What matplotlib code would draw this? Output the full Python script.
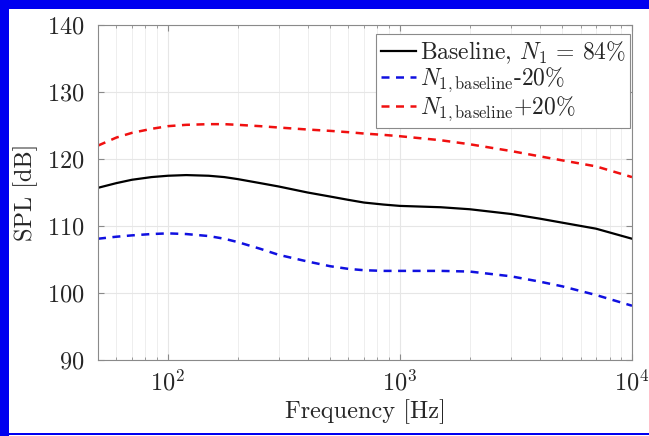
import matplotlib
matplotlib.use('Agg')

import matplotlib.pyplot as plt
from matplotlib.patches import Rectangle
from matplotlib.ticker import LogLocator, MultipleLocator, NullFormatter

plt.rcParams['font.family'] = 'serif'
plt.rcParams['font.serif'] = ['cmr10']
plt.rcParams['mathtext.fontset'] = 'cm'
plt.rcParams['axes.formatter.use_mathtext'] = True

# SPL spectra for the three N1 settings
freq = [50, 60, 70, 85, 100, 120, 150, 175, 200, 250, 300, 400, 500, 600, 700,
        850, 1000, 1500, 2000, 3000, 4000, 5000, 7000, 10000]
spl_baseline = [115.7, 116.4, 116.9, 117.3, 117.5, 117.6, 117.5, 117.3, 117.0,
                116.4, 115.9, 115.0, 114.4, 113.9, 113.5, 113.2, 113.0, 112.8,
                112.5, 111.8, 111.1, 110.5, 109.6, 108.1]
spl_minus20 = [108.1, 108.4, 108.6, 108.8, 108.9, 108.8, 108.5, 108.1, 107.6,
               106.6, 105.7, 104.7, 104.0, 103.6, 103.4, 103.3, 103.3, 103.3,
               103.2, 102.5, 101.7, 101.0, 99.7, 98.1]
spl_plus20 = [122.0, 123.2, 123.9, 124.5, 124.9, 125.1, 125.2, 125.2, 125.1,
              124.9, 124.7, 124.4, 124.2, 124.0, 123.8, 123.6, 123.4, 122.8,
              122.2, 121.2, 120.4, 119.8, 118.9, 117.3]

labels = [r'Baseline, $N_1$ = 84%',
          r'$N_{1,\mathrm{baseline}}$-20%',
          r'$N_{1,\mathrm{baseline}}$+20%']

W, H = 649, 436
fig = plt.figure(figsize=(W / 100, H / 100), dpi=100)
ax = fig.add_axes([98 / W, 1 - 360 / H, (632 - 98) / W, (360 - 25) / H])

ax.plot(freq, spl_baseline, color='black', lw=1.6, label=labels[0])
ax.plot(freq, spl_minus20, color='#1010e0', lw=1.8, dashes=(3.2, 2.6),
        label=labels[1])
ax.plot(freq, spl_plus20, color='#f01010', lw=1.8, dashes=(3.2, 2.6),
        label=labels[2])

ax.set_xscale('log')
ax.set_xlim(50, 1e4)
ax.set_ylim(90, 140)
ax.yaxis.set_major_locator(MultipleLocator(10))
ax.xaxis.set_major_locator(LogLocator(base=10))
ax.xaxis.set_minor_locator(LogLocator(base=10, subs=range(2, 10)))
ax.xaxis.set_minor_formatter(NullFormatter())

ax.grid(True, which='major', color='#e6e6e6', lw=0.8)
ax.grid(True, which='minor', axis='x', color='#eeeeee', lw=0.7)
ax.set_axisbelow(True)

for s in ax.spines.values():
    s.set_color('#8a8a8a')
    s.set_linewidth(0.8)
ax.tick_params(which='both', direction='in', top=True, right=True,
               color='#8a8a8a', labelsize=17.5, labelcolor='#262626')
ax.tick_params(which='major', length=4)
ax.tick_params(axis='y', which='major', pad=10)
ax.tick_params(axis='x', which='major', pad=7)
ax.tick_params(which='minor', length=2.5)

ax.set_xlabel('Frequency [Hz]', fontsize=17.5, color='#262626', labelpad=3)
ax.set_ylabel('SPL [dB]', fontsize=17.5, color='#262626', labelpad=6)

leg = ax.legend(loc='upper right', fontsize=17, handlelength=1.5,
                handletextpad=0.15, borderpad=0.2, labelspacing=0.0,
                borderaxespad=0.0, bbox_to_anchor=(0.997, 0.972),
                fancybox=False, framealpha=1, edgecolor='#8a8a8a')
leg.get_frame().set_linewidth(0.8)
for t in leg.get_texts():
    t.set_color('#262626')

# blue frame on the left, top and bottom edges (sizes in pixels)
for x0, y0, w, h in [(0, 0, 9, H), (0, H - 9, W, 9), (0, 1, W, 2)]:
    fig.add_artist(Rectangle((x0 / W, y0 / H), w / W, h / H,
                             transform=fig.transFigure, facecolor='#0000f0',
                             edgecolor='none', zorder=10))

fig.savefig('out.png', dpi=100)
